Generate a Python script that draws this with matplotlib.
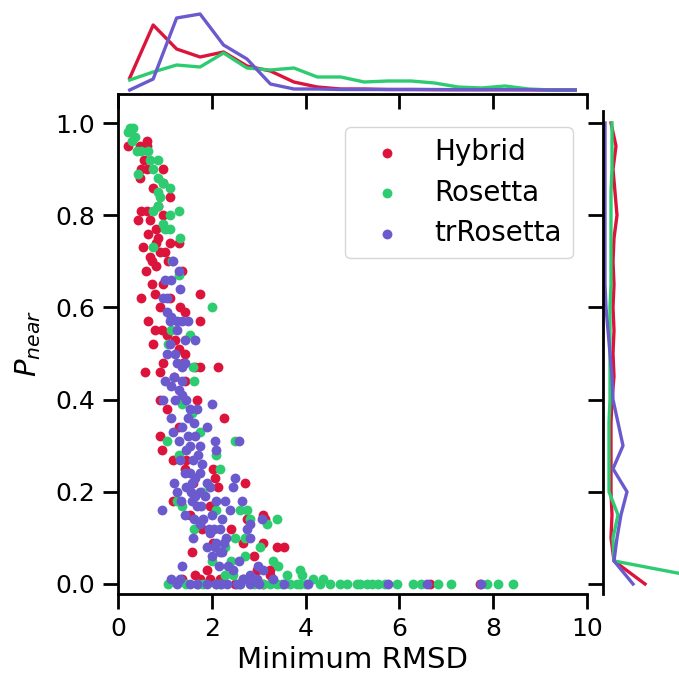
import matplotlib
matplotlib.use("Agg")
import matplotlib.pyplot as plt

# scatter data: minimum RMSD vs P_near
hybrid_x = [0.22, 0.47, 0.61, 0.61, 0.50, 0.61, 0.97, 0.47, 0.97, 1.11, 0.50, 0.61, 0.43, 0.68,
            0.97, 0.82, 0.86, 0.82, 1.11, 1.29, 0.54, 0.90, 0.68, 0.72, 0.82, 1.07, 1.36, 0.72,
            0.97, 0.79, 1.75, 1.32, 1.43, 0.65, 1.75, 0.79, 0.93, 1.04, 1.22, 0.75, 1.29,
            1.43, 0.97, 1.39, 0.58, 0.90, 1.64, 1.75, 2.14, 1.43, 0.90, 1.68, 2.25, 0.90, 0.93,
            1.18, 1.46, 1.43, 2.03, 2.07, 2.14, 2.71, 1.18, 1.96, 1.54, 3.10, 3.13, 2.74, 1.57,
            3.10, 2.67, 2.03, 3.38, 3.53, 1.64, 3.24, 2.96, 2.67, 1.75, 2.17, 1.96, 1.36, 3.24,
            6.65, 7.72, 0.55, 0.75, 0.85, 0.65, 1.00, 0.60, 0.90, 0.50, 1.10, 1.20, 1.05, 1.30,
            1.60, 1.80, 2.40, 2.90, 2.50, 3.10, 1.90]
hybrid_y = [0.95, 0.95, 0.96, 0.95, 0.90, 0.90, 0.90, 0.88, 0.87, 0.84, 0.81, 0.81, 0.79, 0.79,
            0.80, 0.77, 0.75, 0.74, 0.74, 0.74, 0.73, 0.72, 0.71, 0.70, 0.69, 0.70, 0.68, 0.65,
            0.65, 0.63, 0.63, 0.60, 0.59, 0.57, 0.57, 0.55, 0.55, 0.54, 0.53, 0.52, 0.51,
            0.50, 0.48, 0.48, 0.46, 0.46, 0.47, 0.47, 0.47, 0.44, 0.40, 0.40, 0.36, 0.32, 0.29,
            0.27, 0.27, 0.25, 0.25, 0.23, 0.21, 0.22, 0.18, 0.17, 0.15, 0.15, 0.14, 0.14, 0.07,
            0.09, 0.09, 0.09, 0.08, 0.08, 0.02, 0.03, 0.03, 0.01, 0.01, 0.01, 0.01, 0.01, 0.02,
            0.0, 0.0, 0.92, 0.86, 0.82, 0.76, 0.72, 0.68, 0.60, 0.62, 0.62, 0.45, 0.38, 0.34,
            0.22, 0.12, 0.12, 0.06, 0.0, 0.0, 0.03]

rosetta_x = [0.26, 0.33, 0.22, 0.36, 0.29, 0.40, 0.65, 0.68, 0.86, 0.75, 0.43, 0.86, 0.97, 1.11,
             0.86, 0.90, 0.86, 0.75, 1.29, 1.11, 1.00, 1.11, 1.32, 0.75, 1.29, 2.00, 1.14, 1.54,
             1.07, 1.61, 1.36, 1.57, 1.75, 1.04, 2.49, 2.10, 2.17, 1.29, 1.25, 1.36, 2.10, 2.60,
             2.74, 1.61, 2.81, 2.49, 2.71, 3.03, 2.28, 2.00, 3.38, 3.17, 3.42, 3.60, 3.88, 3.92,
             2.28, 2.46, 1.07, 1.46, 1.82, 2.17, 3.10, 3.24, 3.67, 3.81, 3.88, 4.52, 4.73, 4.88,
             5.09, 4.16, 4.38, 2.60, 2.90, 3.40, 4.30, 5.16, 5.30, 5.42, 5.55, 5.70, 5.94, 6.30,
             6.47, 6.83, 7.11, 7.86, 8.11, 8.43, 0.50, 0.95, 1.15, 1.60, 1.80, 2.40, 2.70, 3.30,
             3.50, 4.00, 1.70, 2.10]
rosetta_y = [0.99, 0.99, 0.98, 0.97, 0.96, 0.94, 0.94, 0.92, 0.92, 0.90, 0.89, 0.88, 0.87, 0.86,
             0.85, 0.84, 0.82, 0.81, 0.81, 0.80, 0.77, 0.77, 0.75, 0.73, 0.67, 0.60, 0.55, 0.54,
             0.52, 0.44, 0.39, 0.37, 0.33, 0.31, 0.31, 0.28, 0.25, 0.28, 0.18, 0.17, 0.16, 0.16,
             0.16, 0.12, 0.14, 0.10, 0.10, 0.08, 0.08, 0.05, 0.14, 0.13, 0.04, 0.02, 0.03, 0.02,
             0.02, 0.02, 0.0, 0.0, 0.0, 0.0, 0.0, 0.0, 0.0, 0.0, 0.0, 0.0, 0.0, 0.0,
             0.0, 0.01, 0.01, 0.0, 0.0, 0.0, 0.0, 0.0, 0.0, 0.0, 0.0, 0.0, 0.0, 0.0,
             0.0, 0.0, 0.0, 0.0, 0.0, 0.0, 0.94, 0.78, 0.70, 0.47, 0.20, 0.05, 0.06, 0.05,
             0.0, 0.0, 0.0, 0.0]

tr_x = [1.18, 1.29, 1.00, 1.14, 1.32, 0.97, 1.04, 1.04, 1.14, 1.11, 1.25, 1.36, 1.50, 1.43, 1.64,
        1.04, 1.22, 1.43, 1.25, 1.36, 1.00, 1.14, 1.36, 1.36, 0.97, 1.22, 1.54, 1.68, 2.00, 1.14,
        1.18, 1.36, 1.61, 1.89, 1.50, 1.64, 1.54, 1.75, 2.07, 2.57, 1.32, 1.71, 2.10, 1.54, 1.75,
        1.43, 1.64, 1.89, 1.57, 1.46, 1.75, 1.25, 1.96, 2.49, 2.46, 1.57, 1.78, 1.68, 2.10, 2.28,
        2.64, 0.93, 1.43, 1.82, 1.61, 2.39, 2.21, 2.17, 1.93, 1.96, 2.81, 2.74, 2.81, 3.06, 2.10,
        2.25, 2.07, 2.21, 2.00, 2.17, 2.57, 2.35, 1.36, 2.99, 3.10, 2.81, 2.96, 2.67, 2.53, 2.32,
        2.10, 1.89, 1.68, 1.54, 2.81, 3.53, 4.06, 1.14, 1.32, 3.31, 5.76, 6.58, 7.75,
        1.20, 1.30, 1.45, 1.50, 1.30, 1.45, 1.60, 1.80, 1.55, 1.65, 1.85, 2.00, 1.75, 2.05,
        2.30, 2.15, 2.45, 1.60, 1.90, 1.20, 1.35, 1.10, 1.25, 2.60, 2.20, 1.25, 3.00]
tr_y = [0.70, 0.68, 0.66, 0.66, 0.64, 0.62, 0.62, 0.59, 0.58, 0.57, 0.57, 0.57, 0.57, 0.53, 0.53,
        0.50, 0.50, 0.48, 0.48, 0.47, 0.44, 0.43, 0.44, 0.41, 0.40, 0.40, 0.38, 0.38, 0.39, 0.36,
        0.33, 0.34, 0.35, 0.34, 0.32, 0.32, 0.30, 0.30, 0.31, 0.31, 0.27, 0.28, 0.29, 0.24, 0.24,
        0.24, 0.23, 0.22, 0.22, 0.21, 0.20, 0.20, 0.21, 0.23, 0.21, 0.18, 0.17, 0.17, 0.18, 0.18,
        0.18, 0.16, 0.15, 0.14, 0.14, 0.16, 0.14, 0.12, 0.12, 0.11, 0.13, 0.12, 0.10, 0.14, 0.09,
        0.09, 0.08, 0.07, 0.06, 0.07, 0.05, 0.04, 0.04, 0.04, 0.03, 0.02, 0.01, 0.01, 0.0, 0.0,
        0.0, 0.0, 0.0, 0.0, 0.0, 0.0, 0.0, 0.01, 0.01, 0.01, 0.0, 0.0, 0.0,
        0.45, 0.42, 0.40, 0.36, 0.31, 0.29, 0.27, 0.26, 0.20, 0.19, 0.19, 0.15, 0.13, 0.12,
        0.10, 0.04, 0.03, 0.10, 0.08, 0.22, 0.18, 0.52, 0.55, 0.0, 0.0, 0.0, 0.0]

# marginal frequency polygons
rmsd_bins = [0.25, 0.75, 1.25, 1.75, 2.25, 2.75, 3.25, 3.75, 4.25, 4.75,
             5.25, 5.75, 6.25, 6.75, 7.25, 7.75, 8.25, 8.75, 9.25, 9.75]
hybrid_rmsd_freq = [12, 65, 41, 33, 38, 24, 19, 8, 3, 1, 1, 0.5, 0.5, 0.3, 0.3, 0.3, 0.3, 0.2, 0, 0]
rosetta_rmsd_freq = [10, 18, 25, 23, 37, 22, 20, 22, 13, 13, 8, 9, 9, 7, 3, 2, 4, 1, 0, 0]
tr_rmsd_freq = [0, 11, 72, 76, 45, 31, 6, 1, 1, 0.5, 0.5, 0.5, 0.5, 0.5, 0.3, 0.3, 0.3, 0.3, 0, 0]

pnear_bins = [0.0, 0.05, 0.1, 0.15, 0.2, 0.25, 0.3, 0.35, 0.4, 0.45, 0.5,
              0.55, 0.6, 0.65, 0.7, 0.75, 0.8, 0.85, 0.9, 0.95, 1.0]
hybrid_pnear_freq = [40, 9, 6, 7, 6, 6, 6, 6, 7, 9, 8, 9, 8, 9, 8, 9, 12, 10, 8, 11, 6]
rosetta_pnear_freq = [130, 9, 8, 13, 4, 4, 4, 4, 5, 5, 5, 5, 5, 6, 6, 6, 6, 6, 7, 7, 7]
tr_pnear_freq = [28, 9, 12, 16, 22, 8, 18, 13, 8, 7, 5, 3, 1, 0, 0, 0, 0, 0, 0, 0, 0]

labels = ["Hybrid", "Rosetta", "trRosetta"]
colors = ["crimson", "#2ecc71", "#6a5acd"]

W, H = 679, 676
fig = plt.figure(figsize=(W / 100, H / 100), dpi=100)
ax = fig.add_axes([118 / W, (H - 594) / H, 469 / W, 500 / H])
ax_top = fig.add_axes([118 / W, (H - 94) / H, 469 / W, 91 / H])
ax_right = fig.add_axes([603 / W, (H - 594) / H, 76 / W, 483 / H])

for xs, ys, lab, c in zip([hybrid_x, rosetta_x, tr_x], [hybrid_y, rosetta_y, tr_y], labels, colors):
    ax.scatter(xs, ys, s=50, color=c, linewidths=0, label=lab)

for f, c in zip([hybrid_rmsd_freq, rosetta_rmsd_freq, tr_rmsd_freq], colors):
    ax_top.plot(rmsd_bins, f, color=c, lw=2.4)
for f, c in zip([hybrid_pnear_freq, rosetta_pnear_freq, tr_pnear_freq], colors):
    ax_right.plot(f, pnear_bins, color=c, lw=2.4)

ax.set_xlim(0, 10)
ax.set_ylim(-0.0217, 1.063)
ax.set_xticks([0, 2, 4, 6, 8, 10])
ax.set_yticks([0.0, 0.2, 0.4, 0.6, 0.8, 1.0])
ax.set_xlabel("Minimum RMSD", fontsize=21, labelpad=4)
ax.set_ylabel("$P_{near}$", fontsize=21, labelpad=9)
ax.tick_params(axis="x", labelsize=18, length=10.5, width=2, pad=6)
ax.tick_params(axis="y", labelsize=18, length=10.5, width=2, pad=6)
for side in ["top", "right"]:
    ax.spines[side].set_visible(False)
for side in ["left", "bottom"]:
    ax.spines[side].set_linewidth(2)

ax_top.set_xlim(0, 10)
ax_top.set_ylim(-4, 87)
ax_top.set_xticks([0, 2, 4, 6, 8, 10])
ax_top.set_yticks([])
ax_top.tick_params(axis="x", length=10.5, width=2, labelbottom=False)
for side in ["top", "right", "left"]:
    ax_top.spines[side].set_visible(False)
ax_top.spines["bottom"].set_linewidth(2)
ax_top.patch.set_visible(False)

ax_right.set_ylim(-0.0217, 1.026)
ax_right.set_xlim(-2, 74)
ax_right.set_yticks([0.0, 0.2, 0.4, 0.6, 0.8, 1.0])
ax_right.set_xticks([])
ax_right.tick_params(axis="y", length=10.5, width=2, labelleft=False)
for side in ["top", "right", "bottom"]:
    ax_right.spines[side].set_visible(False)
ax_right.spines["left"].set_linewidth(2)
ax_right.patch.set_visible(False)

ax.legend(loc="upper right", bbox_to_anchor=(0.970, 0.934), borderaxespad=0,
          fontsize=20, handletextpad=0.6, handlelength=2.2, labelspacing=0.45, frameon=True)

fig.savefig("out.png", dpi=100)
